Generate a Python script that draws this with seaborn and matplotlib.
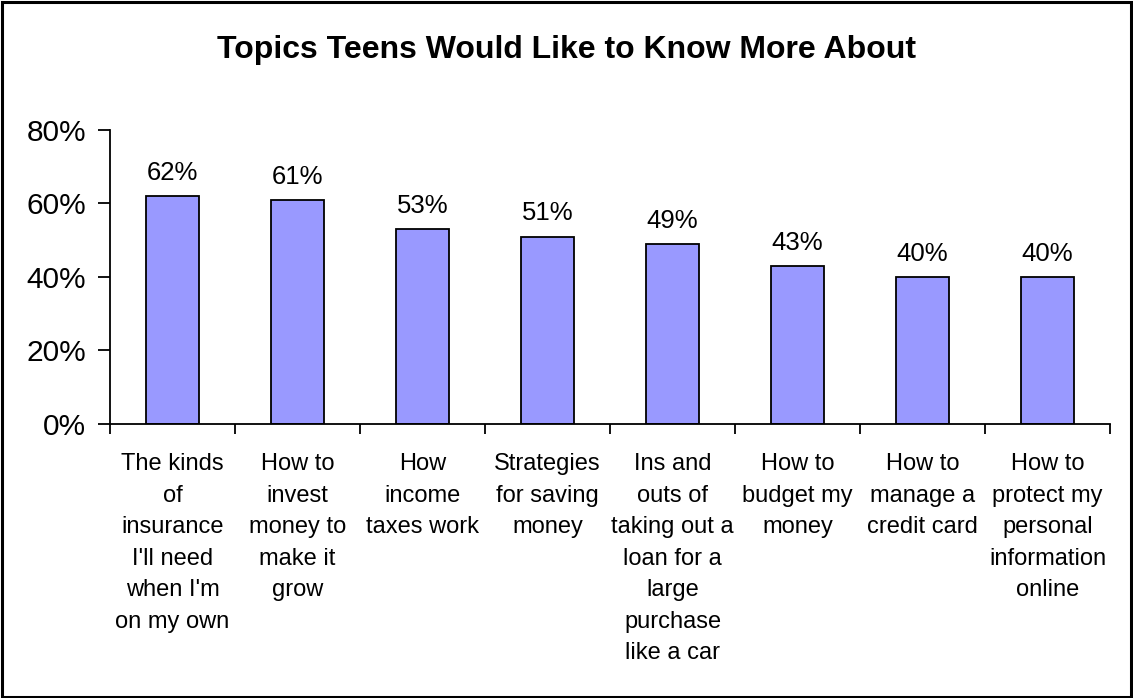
import matplotlib
matplotlib.use("Agg")
import matplotlib.pyplot as plt
import seaborn as sns
import pandas as pd
from matplotlib.patches import Rectangle
from matplotlib.ticker import FixedLocator

# Survey topics and share of teens who want to learn more
topics = [
    "The kinds\nof\ninsurance\nI'll need\nwhen I'm\non my own",
    "How to\ninvest\nmoney to\nmake it\ngrow",
    "How\nincome\ntaxes work",
    "Strategies\nfor saving\nmoney",
    "Ins and\nouts of\ntaking out a\nloan for a\nlarge\npurchase\nlike a car",
    "How to\nbudget my\nmoney",
    "How to\nmanage a\ncredit card",
    "How to\nprotect my\npersonal\ninformation\nonline",
]
shares = [62, 61, 53, 51, 49, 43, 40, 40]
y_ticks = [0, 20, 40, 60, 80]

sns.set_theme(style="white")
plt.rcParams["font.family"] = ["Liberation Sans", "DejaVu Sans"]
plt.rcParams["text.color"] = "black"
plt.rcParams["xtick.color"] = "black"
plt.rcParams["ytick.color"] = "black"
plt.rcParams["xtick.labelcolor"] = "black"
plt.rcParams["ytick.labelcolor"] = "black"

df = pd.DataFrame({"topic": topics, "share": shares})

fig = plt.figure(figsize=(11.33, 6.98), dpi=100)
ax = fig.add_axes([0.0971, 0.3926, 0.8826, 0.4212])

sns.barplot(data=df, x="topic", y="share", ax=ax, color="#9999FF",
            saturation=1, width=0.42, edgecolor="black", linewidth=1.3)

ax.set_xlim(-0.5, len(topics) - 0.5)
ax.set_ylim(0, 80)
ax.set_yticks(y_ticks)
ax.set_yticklabels([f"{v}%" for v in y_ticks], fontsize=21.5)
ax.set_xlabel("")
ax.set_ylabel("")

# Category labels centred under bars, tick marks on category boundaries
ax.set_xticks(range(len(topics)))
ax.set_xticklabels(topics, fontsize=17, linespacing=1.56, va="top")
ax.tick_params(axis="x", which="major", length=0, pad=21)
ax.xaxis.set_minor_locator(FixedLocator([i - 0.5 for i in range(len(topics) + 1)]))
ax.tick_params(axis="x", which="minor", length=7, width=1.3, color="black",
               direction="out", bottom=True)
ax.tick_params(axis="y", length=9, width=1.3, color="black", direction="out",
               left=True, pad=8)

for side in ["top", "right"]:
    ax.spines[side].set_visible(False)
for side in ["left", "bottom"]:
    ax.spines[side].set_color("black")
    ax.spines[side].set_linewidth(1.3)

# Value labels above each bar
for i, v in enumerate(shares):
    ax.annotate(f"{v}%", (i, v), xytext=(0, 8), textcoords="offset points",
                ha="center", va="bottom", fontsize=18.5, color="black")

fig.suptitle("Topics Teens Would Like to Know More About", fontsize=23,
             fontweight="bold", y=0.928, x=0.5, va="center", color="black")

# Chart-area frame
fig.patches.append(Rectangle((0.002, 0.002), 0.996, 0.995, transform=fig.transFigure,
                             fill=False, edgecolor="black", linewidth=2.2))

fig.savefig("out.png", dpi=100, facecolor="white")
